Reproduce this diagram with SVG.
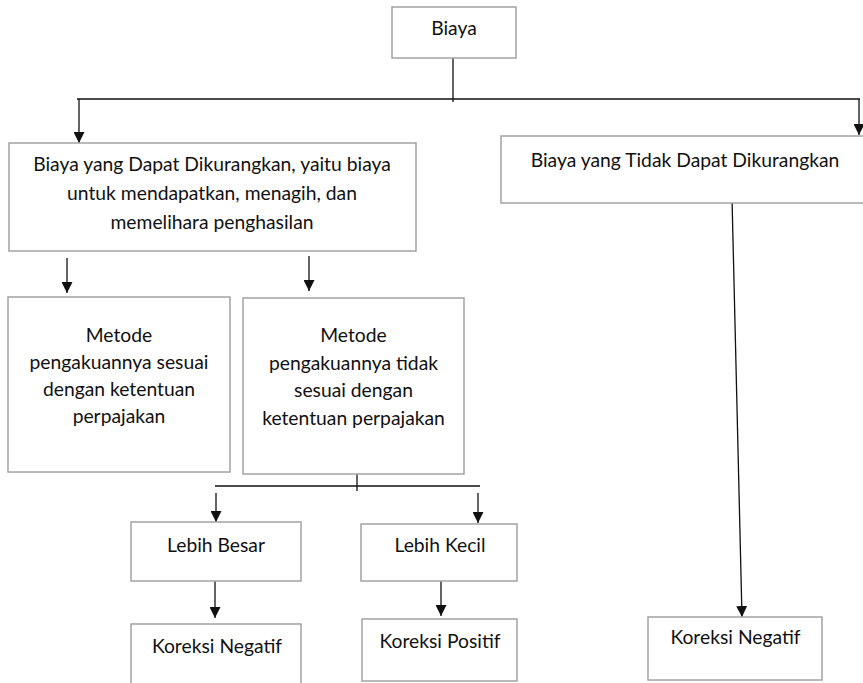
<svg xmlns="http://www.w3.org/2000/svg" width="863" height="683" viewBox="0 0 863 683">
<style>
.box{fill:#fff;stroke:#a3a3a3;stroke-width:1.5}
.t{font-family:Lato,"Liberation Sans",sans-serif;font-size:19.3px;fill:#111;text-anchor:middle}
.ln{stroke:#111;stroke-width:1.3;fill:none}
.ar{stroke:#111;stroke-width:1.3;fill:none;marker-end:url(#ah)}
</style>
<defs>
<marker id="ah" markerUnits="userSpaceOnUse" markerWidth="11" markerHeight="11" refX="10" refY="5" orient="auto" viewBox="0 0 10 10">
<path d="M0,0 L10,5 L0,10 Z" fill="#111"/>
</marker>
</defs>
<rect width="863" height="683" fill="#fff"/>
<g id="connectors">
<line class="ln" x1="453" y1="58" x2="453" y2="102"/>
<line class="ln" x1="77" y1="99" x2="860" y2="99"/>
<line class="ar" x1="79" y1="99" x2="79" y2="143"/>
<line class="ar" x1="859" y1="99" x2="859" y2="135"/>
<line class="ar" x1="67" y1="258" x2="67" y2="293"/>
<line class="ar" x1="309" y1="256" x2="309" y2="291"/>
<line class="ln" x1="357" y1="468" x2="357" y2="491"/>
<line class="ln" x1="215" y1="486" x2="480" y2="486"/>
<line class="ar" x1="216" y1="493" x2="216" y2="522"/>
<line class="ar" x1="478" y1="493" x2="478" y2="523"/>
<line class="ar" x1="215" y1="581" x2="215" y2="618"/>
<line class="ar" x1="441" y1="581" x2="441" y2="616"/>
<line class="ar" x1="732" y1="198" x2="742" y2="617"/>
</g>
<g id="biaya">
<rect class="box" x="392" y="7" width="124" height="51"/>
<text class="t" x="454" y="35">Biaya</text>
</g>
<g id="dapat">
<rect class="box" x="9" y="143" width="407" height="108"/>
<text class="t" x="212" y="170.5">Biaya yang Dapat Dikurangkan, yaitu biaya</text>
<text class="t" x="212" y="199.5">untuk mendapatkan, menagih, dan</text>
<text class="t" x="212" y="228.5">memelihara penghasilan</text>
</g>
<g id="tidak">
<rect class="box" x="501" y="136" width="372" height="67"/>
<text class="t" x="685" y="167">Biaya yang Tidak Dapat Dikurangkan</text>
</g>
<g id="sesuai">
<rect class="box" x="8" y="297" width="222" height="175"/>
<text class="t" x="119" y="342">Metode</text>
<text class="t" x="119" y="369">pengakuannya sesuai</text>
<text class="t" x="119" y="396">dengan ketentuan</text>
<text class="t" x="119" y="423">perpajakan</text>
</g>
<g id="tidaksesuai">
<rect class="box" x="243" y="298" width="221" height="176"/>
<text class="t" x="353.5" y="342">Metode</text>
<text class="t" x="353.5" y="370">pengakuannya tidak</text>
<text class="t" x="353.5" y="397">sesuai dengan</text>
<text class="t" x="353.5" y="425">ketentuan perpajakan</text>
</g>
<g id="besar">
<rect class="box" x="131" y="522" width="170" height="59"/>
<text class="t" x="216" y="552">Lebih Besar</text>
</g>
<g id="kecil">
<rect class="box" x="361" y="524" width="156" height="57"/>
<text class="t" x="440" y="552">Lebih Kecil</text>
</g>
<g id="negatif1">
<rect class="box" x="131" y="624" width="170" height="70"/>
<text class="t" x="217" y="653">Koreksi Negatif</text>
</g>
<g id="positif">
<rect class="box" x="362" y="619" width="155" height="62"/>
<text class="t" x="440" y="648">Koreksi Positif</text>
</g>
<g id="negatif2">
<rect class="box" x="648" y="617" width="174" height="63"/>
<text class="t" x="735.5" y="644">Koreksi Negatif</text>
</g>
</svg>
